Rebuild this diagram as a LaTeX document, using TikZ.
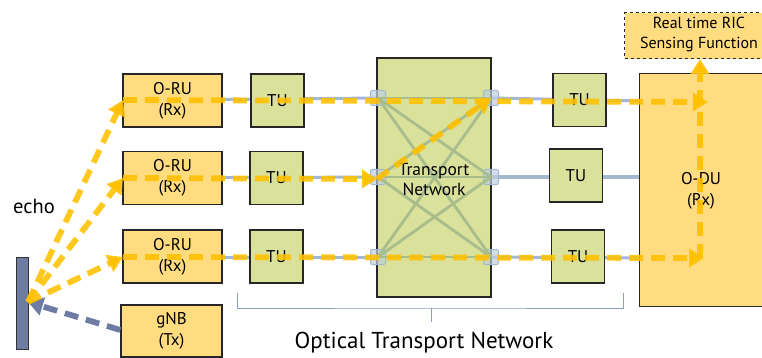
\documentclass[tikz,border=0pt]{standalone}
\usepackage{fontspec}
\setmainfont{PT Sans}
\usetikzlibrary{arrows.meta}
\definecolor{oran}{HTML}{FFDC80}
\definecolor{tugreen}{HTML}{D9E19B}
\definecolor{ylw}{HTML}{FFC000}
\definecolor{gblue}{HTML}{A3B9CF}
\definecolor{mesh}{HTML}{A9BC8C}
\definecolor{slate}{HTML}{6E7BA3}
\definecolor{brk}{HTML}{8C9CC2}
\tikzset{
  box/.style={draw=black!85, line width=1.4pt, inner sep=0pt, align=center, font=\fontsize{17}{21}\selectfont},
  orubox/.style={box, fill=oran, minimum width=99pt, minimum height=53pt},
  tubox/.style={box, fill=tugreen, minimum width=53pt, minimum height=53pt},
  port/.style={draw=gblue, fill=gblue!70, fill opacity=0.7, rounded corners=2pt, minimum size=15pt, inner sep=0pt, line width=1pt},
  link/.style={draw=gblue, line width=3pt},
  meshline/.style={draw=mesh, line width=2.8pt},
  yarrow/.style={draw=ylw, draw opacity=0.88, line width=5.8pt, dash pattern=on 14pt off 8pt, -{Triangle[length=15pt,width=18pt]}},
  sarrow/.style={draw=slate, line width=5.8pt, dash pattern=on 14pt off 8pt, -{Triangle[length=15pt,width=18pt]}}
}
\begin{document}
\begin{tikzpicture}[x=1pt,y=-1pt]
\useasboundingbox (0,0) rectangle (762,358);
% grey-blue links behind boxes
\coordinate (pl1c) at (378,98);
\coordinate (pl2c) at (378,177);
\coordinate (pl3c) at (378,257);
\coordinate (pr1c) at (491,98);
\coordinate (pr2c) at (491,177);
\coordinate (pr3c) at (491,257);
\coordinate (od1) at (645,101);
\coordinate (od2) at (645,177);
\coordinate (od3) at (645,258);
\coordinate (oa1) at (172,100);
\coordinate (oa2) at (172,178);
\coordinate (oa3) at (172,257);
\draw[link] (oa1) -- (pl1c);
\draw[link] (oa2) -- (pl2c);
\draw[link] (oa3) -- (pl3c);
\draw[link] (pr1c) -- (od1);
\draw[link] (pr2c) -- (od2);
\draw[link] (pr3c) -- (od3);
% boxes
\node[orubox] (oru1) at (172.5,100.5) {O-RU\\(Rx)};
\node[orubox] (oru2) at (172.5,178) {O-RU\\(Rx)};
\node[orubox] (oru3) at (172.5,256.5) {O-RU\\(Rx)};
\node[orubox, minimum width=101pt, minimum height=52pt] (gnb) at (171.5,331) {gNB\\(Tx)};
\node[tubox] (tul1) at (277.5,100.5) {TU};
\node[tubox] (tul2) at (276.5,178) {TU};
\node[tubox] (tul3) at (276.5,256.5) {TU};
\node[tubox] (tur1) at (579.5,100) {TU};
\node[tubox] (tur2) at (576,175.5) {TU};
\node[tubox] (tur3) at (578,256.5) {TU};
\node[box, fill=tugreen, minimum width=114pt, minimum height=239pt] (tn) at (434,177.5) {};
\node[box, fill=oran, minimum width=135pt, minimum height=233pt, anchor=north west] (odu) at (639,73) {};
\node[font=\fontsize{17}{21}\selectfont, align=center] (odut) at (701,191) {O-DU\\(Rx)};
\node[box, fill=oran, dashed, line width=1.2pt, minimum width=152pt, minimum height=46pt, anchor=north west] (ric) at (624,12) {};
\node[font=\fontsize{16}{20}\selectfont, align=center] (rict) at (699,35) {Real time RIC\\Sensing Function};
% ports
\node[port] (pl1) at (pl1c) {};
\node[port] (pl2) at (pl2c) {};
\node[port] (pl3) at (pl3c) {};
\node[port] (pr1) at (pr1c) {};
\node[port] (pr2) at (pr2c) {};
\node[port] (pr3) at (pr3c) {};
% mesh
\foreach \a in {1,2,3}{
  \foreach \b in {1,2,3}{
    \draw[meshline] (pl\a c) -- (pr\b c);
  }
}
\node[font=\fontsize{17.5}{20}\selectfont, align=center] (tnt) at (434,179) {Transport\\Network};
% reflector bar
\node[draw=black!80, fill=slate, line width=1.2pt, minimum width=12pt, minimum height=92pt, inner sep=0pt, anchor=north west] (bar) at (16,257) {};
\coordinate (echo pt) at (28,302);
\node[font=\fontsize{20.5}{22}\selectfont] (echo) at (34,206) {echo};
% bracket
\coordinate (bl) at (237,293);
\coordinate (br) at (623,293);
\coordinate (bm) at (431,308);
\coordinate (bt) at (431,322);
\draw[brk, line width=1pt] (bl) |- (bm) -| (br);
\draw[brk, line width=1pt] (bm) -- (bt);
\node[font=\fontsize{23}{25}\selectfont] (otn) at (424,343) {Optical Transport Network};
% slate arrow from gNB
\draw[sarrow] (gnb.west |- 0,330) -- (echo pt);
% yellow arrows
\coordinate (r1s) at (123,100);
\coordinate (r2s) at (123,178);
\coordinate (r3s) at (123,257);
\coordinate (r1e) at (708,102);
\coordinate (r2e) at (377,179);
\coordinate (r3e) at (704,258);
\coordinate (vstart) at (700,258);
\coordinate (vend) at (700,59);
\draw[yarrow] (echo pt) -- (r1s);
\draw[yarrow] (echo pt) -- (r2s);
\draw[yarrow] (echo pt) -- (r3s);
\draw[yarrow] (r1s) -- (r1e);
\draw[yarrow] (r2s) -- (r2e);
\draw[yarrow] (r2e) -- (pr1c);
\draw[yarrow] (r3s) -- (r3e);
\draw[yarrow] (vstart) -- (vend);
\end{tikzpicture}
\end{document}
